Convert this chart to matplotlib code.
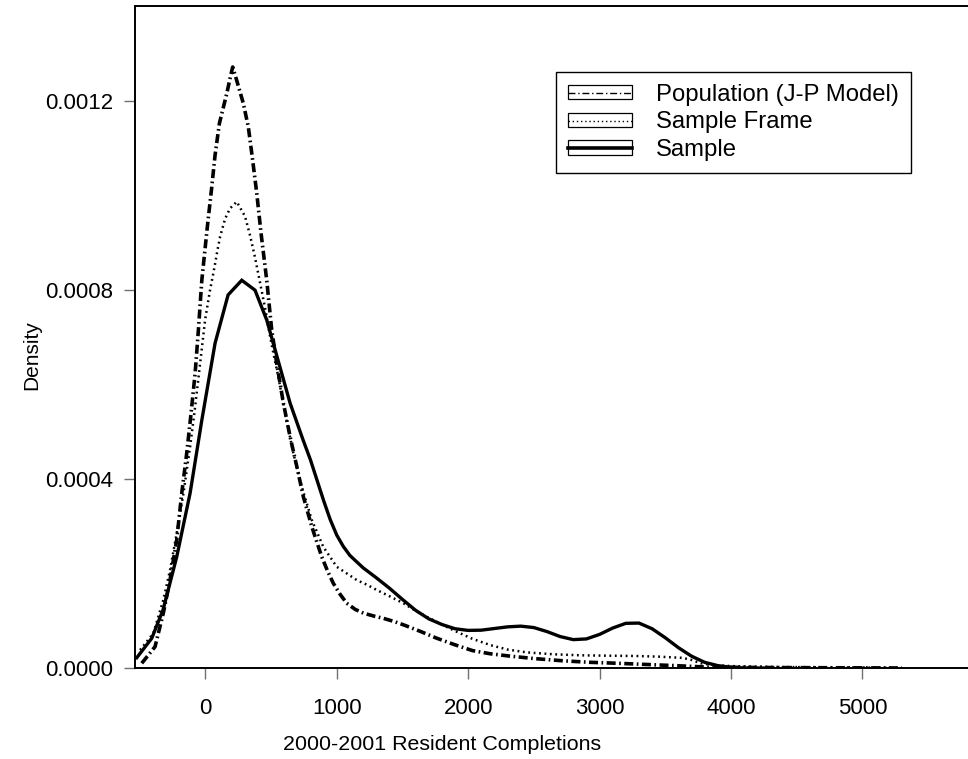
import matplotlib
matplotlib.use('Agg')
import matplotlib.pyplot as plt
import matplotlib.patches as mpatches
from matplotlib.lines import Line2D
from matplotlib.legend_handler import HandlerTuple

plt.rcParams['font.family'] = ['Liberation Sans', 'DejaVu Sans']
plt.rcParams['lines.scale_dashes'] = False

# population (J-P model) density
pop_x = [-484, -383, -320, -269, -218, -180, -142, -109, -78, -53, -27, 15, 49, 74,
         107, 163, 188, 208, 234, 289, 327, 360, 391, 424, 467, 505, 543, 594, 645,
         696, 746, 810, 850, 886, 930, 974, 1025, 1076, 1140, 1203, 1280, 1355,
         1440, 1520, 1640, 1757, 1900, 2033, 2170, 2309, 2500, 2722, 2930, 3136,
         3350, 3549, 3813, 4200, 4800, 5300]
pop_y = [0.00001, 0.000045, 0.000116, 0.000186, 0.000271, 0.000369, 0.000454,
         0.000538, 0.000623, 0.000715, 0.00082, 0.000933, 0.001018, 0.001085,
         0.001152, 0.001215, 0.001247, 0.001271, 0.001247, 0.001194, 0.001144,
         0.001074, 0.001004, 0.000919, 0.00082, 0.000715, 0.000644, 0.00056,
         0.000489, 0.000426, 0.000362, 0.000299, 0.000265, 0.000235, 0.000205,
         0.000179, 0.000156, 0.000137, 0.000124, 0.000116, 0.00011, 0.000105,
         0.000098, 0.00009, 0.000077, 0.0000634, 0.000049, 0.0000368, 0.00003,
         0.0000254, 0.00002, 0.0000152, 0.000012, 0.00001, 0.0000075, 0.0000053,
         0.000002, 0.000001, 0.0000005, 0.0]

# sample frame density
frame_x = [-497, -396, -320, -269, -218, -167, -116, -78, -40, -2, 36, 56, 74, 91,
           112, 150, 188, 239, 302, 340, 378, 416, 454, 490, 518, 556, 607, 670,
           734, 810, 898, 1000, 1076, 1152, 1230, 1304, 1400, 1507, 1600, 1700,
           1800, 1895, 2030, 2171, 2300, 2447, 2650, 2859, 3070, 3274, 3450, 3632,
           3700, 3770, 3880, 4000, 4400, 5000, 5300]
frame_y = [0.000038, 0.0000733, 0.000144, 0.000207, 0.000285, 0.000369, 0.000468,
           0.000552, 0.000644, 0.000736, 0.0008, 0.000828, 0.000855, 0.000882,
           0.000912, 0.00095, 0.000972, 0.000986, 0.000955, 0.000915, 0.000868,
           0.000815, 0.000762, 0.000705, 0.000665, 0.000615, 0.000538, 0.000454,
           0.000383, 0.000313, 0.000256, 0.000214, 0.0002, 0.000186, 0.000176,
           0.000165, 0.000152, 0.000137, 0.000121, 0.000106, 0.000092, 0.0000789,
           0.000062, 0.0000482, 0.000039, 0.000033, 0.000029, 0.0000268, 0.000026,
           0.0000254, 0.000024, 0.0000214, 0.000017, 0.00001, 0.000006, 0.000004,
           0.000002, 0.000001, 0.0]

# sample density
samp_x = [-522, -408, -322, -218, -116, -27, 74, 173, 277, 378, 467, 553, 645, 744,
          800, 850, 900, 950, 1000, 1050, 1100, 1200, 1300, 1400, 1500, 1600, 1700,
          1800, 1900, 2000, 2100, 2200, 2300, 2400, 2500, 2600, 2700, 2800, 2900,
          3000, 3100, 3200, 3300, 3400, 3500, 3600, 3700, 3800, 3900, 4000, 4100,
          4300]
samp_y = [0.0000218, 0.0000628, 0.000123, 0.000235, 0.00037, 0.000524, 0.000687,
          0.000789, 0.00082, 0.000799, 0.000736, 0.000651, 0.00056, 0.000482,
          0.00044, 0.000397, 0.000354, 0.000314, 0.000281, 0.000257, 0.000238,
          0.000212, 0.000191, 0.000169, 0.000145, 0.000122, 0.000104, 0.000092,
          0.000083, 0.0000795, 0.00008, 0.0000835, 0.000087, 0.0000885, 0.0000855,
          0.000077, 0.0000665, 0.00006, 0.0000615, 0.000071, 0.0000845, 0.0000945,
          0.000095, 0.000083, 0.000064, 0.000043, 0.000025, 0.000012, 0.000005,
          0.0000015, 0.0, 0.0]

series_names = ['Population (J-P Model)', 'Sample Frame', 'Sample']
x_ticks = [0, 1000, 2000, 3000, 4000, 5000]
y_ticks = [0, 0.0004, 0.0008, 0.0012]
y_ticklabels = ['0.0000', '0.0004', '0.0008', '0.0012']

dashdot = (0, (6.5, 2.5, 1.2, 2.5))
dotted = (0, (1.3, 2.6))

fig = plt.figure(figsize=(9.68, 7.59), dpi=100)
ax = fig.add_axes([0.1398, 0.1199, 0.8602, 0.8722])

ax.plot(pop_x, pop_y, color='black', lw=2.6, linestyle=dashdot)
ax.plot(frame_x, frame_y, color='black', lw=1.8, linestyle=dotted)
ax.plot(samp_x, samp_y, color='black', lw=2.4, solid_joinstyle='miter')

ax.set_xlim(-533, 5804)
ax.set_ylim(0, 0.0014)
ax.set_xticks(x_ticks)
ax.set_xticklabels([str(t) for t in x_ticks])
ax.set_yticks(y_ticks)
ax.set_yticklabels(y_ticklabels)

ax.spines['right'].set_visible(False)
for s in ['left', 'top', 'bottom']:
    ax.spines[s].set_linewidth(1.4)
ax.tick_params(axis='both', direction='out', length=7.7, width=1.0,
               color='#707070', labelsize=16)
ax.tick_params(axis='x', pad=14)
ax.tick_params(axis='y', pad=8)

ax.set_xlabel('2000-2001 Resident Completions', fontsize=15.4)
ax.set_ylabel('Density', fontsize=15)
ax.xaxis.set_label_coords(0.368, -0.101)
ax.yaxis.set_label_coords(-0.113, 0.473)

# legend handles: open box with the line style drawn through it
handles = []
leg_styles = [dict(lw=1.0, linestyle=(0, (5, 2, 1, 2))),
              dict(lw=1.0, linestyle=(0, (1, 2))),
              dict(lw=2.6, linestyle='-')]
for st in leg_styles:
    box = mpatches.Rectangle((0, 0), 1, 1, facecolor='white', edgecolor='black', lw=0.9)
    ln = Line2D([], [], color='black', **st)
    handles.append((box, ln))

leg = ax.legend(handles, series_names, loc='upper left',
                bbox_to_anchor=(0.505, 0.9008), borderaxespad=0,
                handler_map={tuple: HandlerTuple(ndivide=1)},
                fontsize=17.2, handlelength=2.7, handleheight=0.55,
                handletextpad=1.0, borderpad=0.5, labelspacing=0.24,
                fancybox=False, framealpha=1, edgecolor='black')
leg.get_frame().set_linewidth(1.0)

fig.savefig('out.png', dpi=100)
